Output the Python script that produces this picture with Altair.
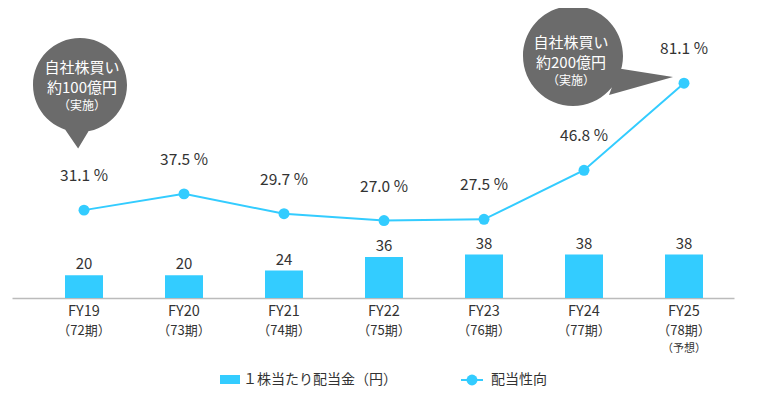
import altair as alt
import pandas as pd

categories = ["FY19", "FY20", "FY21", "FY22", "FY23", "FY24", "FY25"]
periods = ["（72期）", "（73期）", "（74期）", "（75期）", "（76期）", "（77期）", "（78期）"]
notes = ["", "", "", "", "", "", "（予想）"]
dividend = [20, 20, 24, 36, 38, 38, 38]
payout = [31.1, 37.5, 29.7, 27.0, 27.5, 46.8, 81.1]

legend_bar = "１株当たり配当金（円）"
legend_line = "配当性向"
bubble1 = ["自社株買い", "約100億円", "（実施）"]
bubble2 = ["自社株買い", "約200億円", "（実施）"]

FONT = "Noto Sans CJK JP"
CYAN = "#33ccff"
GRAY = "#6b6b6b"
TXT = "#333333"

df = pd.DataFrame({
    "idx": list(range(len(categories))),
    "cat": categories,
    "period": periods,
    "note": notes,
    "dividend": dividend,
    "payout": payout,
    "plabel": [f"{v:.1f} %" for v in payout],
})

one = pd.DataFrame({"k": [0]})

x = alt.X("idx:Q", scale=alt.Scale(domain=[-0.72, 6.5], nice=False, zero=False, padding=0),
          axis=alt.Axis(domain=True, domainColor="#bbbbbb", domainWidth=1.5, ticks=False,
                        labels=False, grid=False, title=None))
y_bar = alt.Y("dividend:Q", scale=alt.Scale(domain=[0, 254], nice=False, padding=0), axis=None)
y_line = alt.Y("payout:Q", scale=alt.Scale(domain=[-3.5, 110.7], nice=False, zero=False, padding=0), axis=None)

base = alt.Chart(df)

bars = base.mark_bar(size=38, color=CYAN).encode(x=x, y=y_bar)
bar_text = base.mark_text(dy=-11, fontSize=15, font=FONT, color=TXT).encode(
    x="idx:Q", y=y_bar, text="dividend:Q")
bar_layer = alt.layer(bars, bar_text)

line = base.mark_line(color=CYAN, strokeWidth=2).encode(x="idx:Q", y=y_line)
pts = base.mark_circle(size=120, color=CYAN, opacity=1).encode(x="idx:Q", y=y_line)
line_text = base.mark_text(dy=-34, fontSize=15.5, font=FONT, color=TXT).encode(
    x="idx:Q", y=y_line, text="plabel:N")
line_layer = alt.layer(line, pts, line_text)

xl1 = base.mark_text(fontSize=14.5, font=FONT, color=TXT).encode(
    x="idx:Q", y=alt.value(304), text="cat:N")
xl2 = base.mark_text(fontSize=13, font=FONT, color=TXT).encode(
    x="idx:Q", y=alt.value(323), text="period:N")
xl3 = base.mark_text(fontSize=11, font=FONT, color=TXT).encode(
    x="idx:Q", y=alt.value(341), text="note:N")

# speech bubbles (annotations)
shape1 = ("M-1,0 A1,1 0 1,1 1,0 A1,1 0 1,1 -1,0 Z "
          "M0.2,0.95 L-0.04,1.35 L-0.35,0.9 Z")
shape2 = ("M-1,0 A1,1 0 1,1 1,0 A1,1 0 1,1 -1,0 Z "
          "M0.92,0.25 L2.0,0.42 L0.72,0.78 Z")
b1 = alt.Chart(one).mark_point(shape=shape1, filled=True, opacity=1, color=GRAY, size=4 * 47 * 47).encode(
    x=alt.value(68), y=alt.value(77))
b2 = alt.Chart(one).mark_point(shape=shape2, filled=True, opacity=1, color=GRAY, size=4 * 50 * 50).encode(
    x=alt.value(561), y=alt.value(48))
bt = []
for lines, cx, ys in [(bubble1, 70, [60, 80, 98]), (bubble2, 559, [35, 55, 73])]:
    for i, (t, yy) in enumerate(zip(lines, ys)):
        bt.append(alt.Chart(one).mark_text(fontSize=15 if i < 2 else 12, font=FONT, color="white").encode(
            x=alt.value(cx), y=alt.value(yy), text=alt.value(t)))

# legend
lg = [
    alt.Chart(one).mark_rect(color=CYAN).encode(
        x=alt.value(208), x2=alt.value(228), y=alt.value(367), y2=alt.value(376)),
    alt.Chart(one).mark_text(align="left", fontSize=14, font=FONT, color=TXT).encode(
        x=alt.value(231), y=alt.value(372), text=alt.value(legend_bar)),
    alt.Chart(one).mark_rule(color=CYAN, strokeWidth=2).encode(
        x=alt.value(449), x2=alt.value(471), y=alt.value(372)),
    alt.Chart(one).mark_circle(color=CYAN, size=120, opacity=1).encode(
        x=alt.value(460), y=alt.value(372)),
    alt.Chart(one).mark_text(align="left", fontSize=14, font=FONT, color=TXT).encode(
        x=alt.value(479), y=alt.value(372), text=alt.value(legend_line)),
]

chart = alt.layer(bar_layer, line_layer, xl1, xl2, xl3, b1, b2, *bt, *lg).resolve_scale(
    y="independent"
).properties(
    width=722, height=290,
    padding={"left": 4, "top": 0, "right": 10, "bottom": 90},
    autosize=alt.AutoSizeParams(type="none"),
).configure_view(stroke=None)

chart.save("out.html", embed_options={"renderer": "svg", "actions": False})
